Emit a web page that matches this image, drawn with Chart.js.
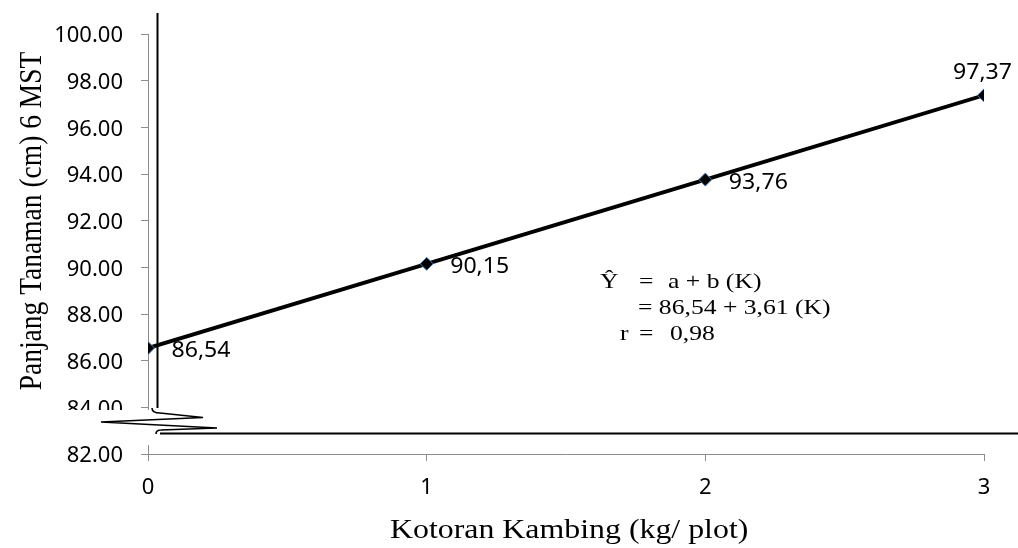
<!DOCTYPE html>
<html><head><meta charset="utf-8">
<script src="https://cdn.jsdelivr.net/npm/chart.js@4.4.1/dist/chart.umd.min.js"></script>
<style>html,body{margin:0;padding:0;background:#fff;overflow:hidden}canvas{display:block}</style>
</head><body>
<canvas id="c" width="1018" height="548"></canvas>
<script>
const categories = [0, 1, 2, 3];
const values = [86.54, 90.15, 93.76, 97.37];
const valueLabels = ['86,54', '90,15', '93,76', '97,37'];
const yTickValues = [82, 84, 86, 88, 90, 92, 94, 96, 98, 100];
const xTickValues = [0, 1, 2, 3];
const xTitle = 'Kotoran Kambing (kg/ plot)';
const yTitle = 'Panjang Tanaman (cm) 6 MST';
const eqLine1 = ['Ŷ', '=', 'a + b (K)'];
const eqLine2 = '= 86,54 + 3,61 (K)';
const eqLine3 = ['r', '=', '0,98'];

const GRAY = '#8c8c8c';
const SERIF = '"Liberation Serif", "Times New Roman", serif';
const SANS = '"Noto Sans", "Open Sans", sans-serif';

function txt(ctx, s, x, y, font, sx, align) {
  ctx.save();
  ctx.font = font; ctx.fillStyle = '#000';
  ctx.textBaseline = 'alphabetic'; ctx.textAlign = align || 'left';
  ctx.translate(x, y); ctx.scale(sx, 1);
  ctx.fillText(s, 0, 0);
  ctx.restore();
}

const decor = {
  id: 'decor',
  afterDraw(chart) {
    const ctx = chart.ctx;
    const a = chart.chartArea;
    const L = a.left, B = a.bottom;
    // data labels
    const meta = chart.getDatasetMeta(0);
    meta.data.forEach((el, i) => {
      const f = '21px ' + SANS;
      if (i < meta.data.length - 1) txt(ctx, valueLabels[i], el.x + 23.5, el.y + 9, f, 1.1, 'left');
      else txt(ctx, valueLabels[i], el.x - 1.5, el.y - 16, f, 1.1, 'center');
    });
    // white mask for broken axis
    ctx.save();
    ctx.fillStyle = '#fff';
    ctx.fillRect(40, B - 44, 176, 35);
    // black axis lines
    ctx.strokeStyle = '#000';
    ctx.lineWidth = 2;
    ctx.beginPath();
    ctx.moveTo(L + 9.5, 13); ctx.lineTo(L + 9.5, B - 46);
    ctx.stroke();
    ctx.beginPath();
    ctx.moveTo(L + 12, B - 20.5); ctx.lineTo(1018, B - 20.5);
    ctx.stroke();
    // break symbol
    ctx.lineWidth = 1.6;
    ctx.beginPath();
    ctx.moveTo(L + 4, B - 46);
    ctx.quadraticCurveTo(L + 4, B - 41, L + 12, B - 41);
    ctx.lineTo(L + 55, B - 36.5);
    ctx.quadraticCurveTo(L + 0, B - 34, L - 47, B - 32);
    ctx.quadraticCurveTo(L + 10, B - 29, L + 69, B - 26);
    ctx.lineTo(L + 13, B - 24);
    ctx.quadraticCurveTo(L + 8, B - 24, L + 8, B - 20);
    ctx.stroke();
    ctx.restore();
    // axis titles
    txt(ctx, xTitle, 390, 538, '27px ' + SERIF, 1.18, 'left');
    ctx.save();
    ctx.font = '27.5px ' + SERIF; ctx.fillStyle = '#000';
    ctx.textAlign = 'center'; ctx.textBaseline = 'alphabetic';
    ctx.translate(41, 221); ctx.rotate(-Math.PI / 2); ctx.scale(1, 1.12);
    ctx.fillText(yTitle, 0, 0);
    ctx.restore();
    // equation
    const ef = '21px ' + SERIF;
    txt(ctx, eqLine1[0], 600, 288, ef, 1.22, 'left');
    txt(ctx, eqLine1[1], 639, 288, ef, 1.22, 'left');
    txt(ctx, eqLine1[2], 668, 288, ef, 1.22, 'left');
    txt(ctx, eqLine2, 638, 314, ef, 1.22, 'left');
    txt(ctx, eqLine3[0], 620, 340, ef, 1.22, 'left');
    txt(ctx, eqLine3[1], 639, 340, ef, 1.22, 'left');
    txt(ctx, eqLine3[2], 670, 340, ef, 1.22, 'left');
  }
};

new Chart(document.getElementById('c'), {
  type: 'line',
  data: {
    datasets: [{
      data: categories.map((c, i) => ({ x: c, y: values[i] })),
      borderColor: '#000',
      borderWidth: 3.8,
      pointStyle: 'rectRot',
      pointRadius: 6.5,
      pointBackgroundColor: '#000',
      pointBorderColor: '#4A7EBB',
      pointBorderWidth: 1,
      tension: 0
    }]
  },
  options: {
    responsive: false,
    devicePixelRatio: 1,
    animation: false,
    events: [],
    layout: { padding: { top: 34, right: 34, left: 0, bottom: 0 } },
    plugins: { legend: { display: false }, tooltip: { enabled: false } },
    scales: {
      x: {
        type: 'linear', min: 0, max: 3,
        afterBuildTicks: s => { s.ticks = xTickValues.map(v => ({ value: v })); },
        afterFit: s => { s.height = 94; },
        grid: { drawOnChartArea: false, drawTicks: true, tickLength: 7, color: GRAY },
        border: { color: GRAY, width: 1 },
        ticks: { color: '#000', font: { family: SANS, size: 22 }, padding: 14, callback: v => String(v) }
      },
      y: {
        type: 'linear', min: 82, max: 100,
        afterBuildTicks: s => { s.ticks = yTickValues.map(v => ({ value: v })); },
        afterFit: s => { s.width = 148; },
        grid: { drawOnChartArea: false, drawTicks: true, tickLength: 7, color: GRAY },
        border: { color: GRAY, width: 1 },
        ticks: { color: '#000', font: { family: SANS, size: 22 }, padding: 18, labelOffset: 2, callback: v => Number(v).toFixed(2) }
      }
    }
  },
  plugins: [decor]
});
</script>
</body></html>
